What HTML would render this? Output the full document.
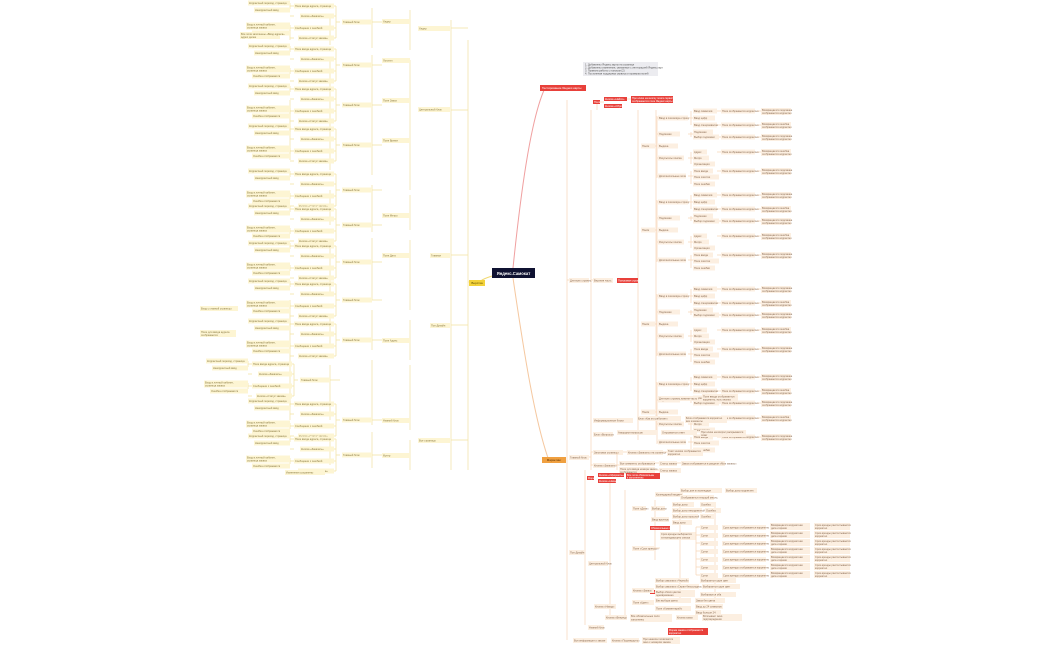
<!DOCTYPE html>
<html><head><meta charset="utf-8"><style>
html,body{margin:0;padding:0;background:#fff;width:1050px;height:650px;overflow:hidden}
svg{display:block}
text{font-family:"Liberation Sans",sans-serif;font-size:2.6px}
.y rect{fill:#fdf5d3}.y text{fill:#8a7a40}
.o rect{fill:#fcefe1}.o text{fill:#8a6a50}
.r rect{fill:#e8403a}.r text{fill:#fff}
.ly{stroke:#f3e2a0;stroke-width:0.7;fill:none}
.lo{stroke:#f8d6b8;stroke-width:0.7;fill:none}
</style></head><body>
<svg width="1050" height="650" viewBox="0 0 1050 650" xmlns="http://www.w3.org/2000/svg">
<defs>
<g id="lb" class="y">
<path class="ly" d="M-32 0H-36 M-36 -16V16 M-36 -16H-38 M-36 -6H-38 M-36 6H-38 M-36 16H-38 M-78 -16H-82 M-78 -6H-82 M-78 6H-82 M-78 16H-82 M-82 -19V-13 M-82 3V9 M0 0H10"/>
<rect x="-30" y="-2.5" width="30" height="5"/><text x="-29" y="1">Главный блок</text>
<rect x="-78" y="-18.5" width="40" height="5"/><text x="-77" y="-15">Поле ввода адреса, страница</text>
<rect x="-72" y="-8.5" width="34" height="5"/><text x="-71" y="-5">Кнопка «Заказать»</text>
<rect x="-78" y="3.5" width="40" height="5"/><text x="-77" y="7">Сообщение с ошибкой</text>
<rect x="-74" y="13.5" width="36" height="5"/><text x="-73" y="17">Кнопка «Статус заказа»</text>
<rect x="-124" y="-21.5" width="42" height="5"/><text x="-123" y="-18">Корректный переход, страница</text>
<rect x="-118" y="-14.5" width="36" height="5"/><text x="-117" y="-11">Некорректный ввод</text>
<rect x="-126" y="0.5" width="44" height="7"/><text x="-125" y="3.5">Вход в личный кабинет,</text><text x="-125" y="6.5">страница заказа</text>
<rect x="-120" y="8.5" width="38" height="5"/><text x="-119" y="12">Ошибка отображается</text>
</g>
</defs>
<!-- main connectors -->
<path d="M513 268 C520 200,530 120,545 88" stroke="#f0a0a0" stroke-width="1" fill="none"/>
<path d="M513 278 C525 360,535 420,548 458" stroke="#f5c8a0" stroke-width="1" fill="none"/>
<path d="M492 276 C480 280,478 282,484 282" stroke="#f0d870" stroke-width="1" fill="none"/>

<!-- LEFT TREE lines -->
<path class="ly" d="M468 40V470 M451 20V470 M451 28H468 M451 110H468 M451 255H468 M451 325H468 M451 440H468 M468 282H470"/>
<path class="ly" d="M410 10V50 M410 60V190 M410 195V230 M410 240V310 M410 320V360 M410 365V430 M410 440V470"/>
<path class="ly" d="M372 8V48 M372 55V175 M372 185V232 M372 238V300 M372 310V350 M372 360V425 M372 432V468"/>
<path class="ly" d="M330 15V45 M330 60V170 M330 190V225 M330 245V295 M330 315V345 M330 365V420 M330 435V465"/>
<path class="ly" d="M290 300V420 M290 30V40 M290 100V160"/>

<!-- right side lines -->
<path class="lo" d="M567 100V640 M591 110V470 M638 110V440 M656 110V430 M567 280H575 M591 280H597"/>
<path class="lo" d="M585 470V625 M610 480V620 M625 490V615 M655 500V560 M680 505V600 M715 505V600"/>

<!-- ROOT -->
<rect x="492" y="268" width="43" height="10" fill="#0f1231"/>
<text x="513.5" y="275" text-anchor="middle" fill="#fff" style="font-size:4.2px;font-weight:bold">Яндекс.Самокат</text>

<g><rect x="469" y="280" width="16" height="6" fill="#f3d23a"/><text x="477" y="284.2" text-anchor="middle" fill="#5a4a00" style="font-size:3px">Верстка</text></g>
<g class="r"><rect x="540" y="85" width="46" height="6"/><text x="542" y="89.2" style="font-size:3px">Тестирование Яндекс.карты</text></g>
<g><rect x="542" y="457" width="24" height="6" fill="#f0a040"/><text x="554" y="461.2" text-anchor="middle" fill="#5a3000" style="font-size:3px">Маркетинг</text></g>

<rect x="583" y="62" width="75" height="14" fill="#ececf0"/>
<text x="585" y="65.5" fill="#555">1. Добавлены Яндекс.карты на странице</text>
<text x="585" y="68.5" fill="#555">2. Добавлены изменения, связанные с интеграцией Яндекс.карт</text>
<text x="585" y="71.5" fill="#555">3. Правила работы с поиском (2)</text>
<text x="585" y="74.5" fill="#555">4. Постоянная поддержка сервиса и проверка полей</text>

<g class="r"><rect x="593" y="100" width="7" height="4"/><rect x="604" y="97" width="23" height="4"/><rect x="604" y="104" width="18" height="4"/><rect x="631" y="96" width="42" height="7"/>
<text x="594" y="103">Поля</text><text x="605" y="100">Кнопка «Найти»</text><text x="605" y="107">Кнопка «Сброс»</text><text x="632" y="99">При клике на кнопку поиск сервиса</text><text x="632" y="102">отображается поле Яндекс.карты</text></g>
<path class="lo" d="M597 104V110 M600 102H604 M627 99H631"/>

<g class="o"><rect x="569" y="278" width="20" height="5"/><text x="570" y="281.5">Для всех страниц</text>
<rect x="593" y="278" width="20" height="5"/><text x="594" y="281.5">Верхняя часть</text></g>
<g class="r"><rect x="617" y="278" width="21" height="5"/><text x="618" y="281.5">Поисковая строка</text></g>

<g id="rb1" transform="translate(641,146)">
<path class="lo" d="M14 0H16 M16 -30V32 M16 -28H17 M16 -12H17 M16 12H17 M16 30H17 M47 -28H52 M47 -12H52 M47 12H52 M47 30H52 M50 -35V-21 M50 -14V-9 M50 6V18 M50 25V38 M76 -35H80 M76 -21H80 M76 -9H80 M76 6H80 M76 25H80 M116 -35H120 M116 -21H120 M116 -9H120 M116 6H120 M116 25H120"/>
<g class="o"><rect x="0" y="-2.5" width="14" height="5"/><text x="1" y="1">Поиск</text>
<rect x="17" y="-30.5" width="30" height="5"/><text x="18" y="-27">Ввод в поисковую строку</text>
<rect x="17" y="-14.5" width="22" height="5"/><text x="18" y="-11">Подсказки</text>
<rect x="17" y="-2.5" width="20" height="5"/><text x="18" y="1">Выдача</text>
<rect x="17" y="9.5" width="26" height="5"/><text x="18" y="13">Результаты поиска</text>
<rect x="17" y="27.5" width="28" height="5"/><text x="18" y="31">Дополнительные поля</text>
<rect x="52" y="-37.5" width="24" height="5"/><text x="53" y="-34">Ввод символов</text>
<rect x="52" y="-30.5" width="22" height="5"/><text x="53" y="-27">Ввод цифр</text>
<rect x="52" y="-23.5" width="24" height="5"/><text x="53" y="-20">Ввод спецсимволов</text>
<rect x="52" y="-16.5" width="20" height="5"/><text x="53" y="-13">Подсказки</text>
<rect x="52" y="-11.5" width="26" height="5"/><text x="53" y="-8">Выбор подсказки</text>
<rect x="52" y="3.5" width="14" height="5"/><text x="53" y="7">Адрес</text>
<rect x="52" y="9.5" width="16" height="5"/><text x="53" y="13">Метро</text>
<rect x="52" y="15.5" width="22" height="5"/><text x="53" y="19">Организация</text>
<rect x="52" y="22.5" width="20" height="5"/><text x="53" y="26">Поле ввода</text>
<rect x="52" y="28.5" width="26" height="5"/><text x="53" y="32">Поле очистки</text>
<rect x="52" y="35.5" width="22" height="5"/><text x="53" y="39">Поле ошибки</text>
<rect x="80" y="-37.5" width="34" height="5"/><text x="81" y="-34">Поле отображается корректно</text>
<rect x="80" y="-23.5" width="34" height="5"/><text x="81" y="-20">Поле отображается корректно</text>
<rect x="80" y="-11.5" width="34" height="5"/><text x="81" y="-8">Поле отображается корректно</text>
<rect x="80" y="3.5" width="34" height="5"/><text x="81" y="7">Поле отображается корректно</text>
<rect x="80" y="22.5" width="34" height="5"/><text x="81" y="26">Поле отображается корректно</text>
<rect x="120" y="-38" width="30" height="7"/><text x="121" y="-35">Возвращается подсказка</text><text x="121" y="-32">отображается корректно</text>
<rect x="120" y="-24" width="30" height="7"/><text x="121" y="-21">Возвращается ошибка</text><text x="121" y="-18">отображается корректно</text>
<rect x="120" y="-12" width="30" height="7"/><text x="121" y="-9">Возвращается подсказка</text><text x="121" y="-6">отображается корректно</text>
<rect x="120" y="3" width="30" height="7"/><text x="121" y="6">Возвращается ошибка</text><text x="121" y="9">отображается корректно</text>
<rect x="120" y="22" width="30" height="7"/><text x="121" y="25">Возвращается подсказка</text><text x="121" y="28">отображается корректно</text>
</g></g>
<g transform="translate(0,84)"><use href="#rb1"/></g>
<g transform="translate(0,178)"><use href="#rb1"/></g>
<g transform="translate(0,266)"><use href="#rb1"/></g>

<g class="o"><rect x="658" y="396" width="40" height="5"/><text x="659" y="399.5">Для всех страниц нижняя часть</text>
<rect x="702" y="394" width="36" height="8"/><text x="703" y="397.5">Поле ввода отображается</text><text x="703" y="400.5">корректно, есть кнопка</text></g>

<g class="o">
<rect x="569" y="455" width="20" height="5"/><text x="570" y="458.5">Главный блок</text>
<rect x="593" y="450" width="30" height="5"/><text x="594" y="453.5">Заголовок страницы</text>
<rect x="627" y="450" width="36" height="5"/><text x="628" y="453.5">Кнопка «Заказать» на странице</text>
<rect x="667" y="449" width="36" height="7"/><text x="668" y="452">Текст кнопки отображается</text><text x="668" y="455">корректно</text>
<rect x="593" y="463" width="22" height="5"/><text x="594" y="466.5">Кнопка «Заказать»</text>
<rect x="619" y="461" width="36" height="5"/><text x="620" y="464.5">Все элементы отображаются</text>
<rect x="659" y="461" width="18" height="5"/><text x="660" y="464.5">Статус заказа</text>
<rect x="681" y="461" width="44" height="5"/><text x="682" y="464.5">Заказ отображается в разделе «Мои заказы»</text>
<rect x="619" y="467" width="36" height="7"/><text x="620" y="470">Поле для ввода номера заказа</text><text x="620" y="473">отображается</text>
<rect x="659" y="468" width="22" height="5"/><text x="660" y="471.5">Статус заказа</text>
</g>
<path class="lo" d="M589 457H591 M591 452V466 M591 452H593 M591 465H593 M617 452V470 M615 465H619 M623 452H627 M663 452H667 M655 463H659 M677 463H681 M655 470H659"/>

<g class="r"><rect x="587" y="476" width="7" height="4"/><text x="588" y="479">Форма</text>
<rect x="598" y="473" width="26" height="4"/><text x="599" y="476">Кнопка «Оформить»</text>
<rect x="598" y="479" width="18" height="4"/><text x="599" y="482">Кнопка «Назад»</text>
<rect x="626" y="473" width="34" height="6"/><text x="627" y="476">Все поля обязательны</text><text x="627" y="478.5">к заполнению</text>
<rect x="650" y="526" width="20" height="4"/><text x="651" y="529">Обязательные поля</text>
<rect x="650" y="590" width="20" height="4"/><text x="651" y="593">Необязательные поля</text>
<rect x="668" y="628" width="40" height="7"/><text x="669" y="631">Форма заказа отображается</text><text x="669" y="634">корректно</text></g>

<g class="o">
<rect x="569" y="550" width="16" height="5"/><text x="570" y="553.5">Поп-Дизайн</text>
<rect x="588" y="561" width="20" height="5"/><text x="589" y="564.5">Центральный блок</text>
<rect x="588" y="625" width="16" height="5"/><text x="589" y="628.5">Нижний блок</text>
<rect x="573" y="638" width="34" height="5"/><text x="574" y="641.5">Вся информация о заказе</text>
<rect x="611" y="638" width="28" height="5"/><text x="612" y="641.5">Кнопка «Подтвердить»</text>
<rect x="642" y="637" width="38" height="7"/><text x="643" y="640">При нажатии появляется</text><text x="643" y="643">окно с номером заказа</text>
<rect x="632" y="506" width="14" height="5"/><text x="633" y="509.5">Поле «Дата»</text>
<rect x="632" y="546" width="22" height="5"/><text x="633" y="549.5">Поле «Срок аренды»</text>
<rect x="655" y="492" width="28" height="5"/><text x="656" y="495.5">Календарный виджет</text>
<rect x="651" y="506" width="14" height="5"/><text x="652" y="509.5">Выбор даты</text>
<rect x="651" y="517" width="18" height="5"/><text x="652" y="520.5">Ввод вручную</text>
<rect x="632" y="588" width="22" height="5"/><text x="633" y="591.5">Кнопка «Заказ»</text>
<rect x="632" y="600" width="22" height="5"/><text x="633" y="603.5">Поле «Цвет»</text>
<rect x="594" y="604" width="22" height="5"/><text x="595" y="607.5">Кнопка «Назад»</text>
<rect x="605" y="615" width="22" height="5"/><text x="606" y="618.5">Кнопка «Вперед»</text>
</g>
<g class="o">
<rect x="680" y="488" width="42" height="5"/><text x="681" y="491.5">Выбор дня из календаря</text>
<rect x="680" y="495" width="34" height="5"/><text x="681" y="498.5">Отображается текущий месяц</text>
<rect x="725" y="488" width="32" height="5"/><text x="726" y="491.5">Выбор даты корректен</text>
<rect x="672" y="502" width="22" height="5"/><text x="673" y="505.5">Выбор даты</text>
<rect x="672" y="508" width="30" height="5"/><text x="673" y="511.5">Выбор даты некорректной</text>
<rect x="672" y="514" width="26" height="5"/><text x="673" y="517.5">Выбор даты прошлой</text>
<rect x="700" y="502" width="16" height="5"/><text x="701" y="505.5">Ошибка</text>
<rect x="705" y="508" width="16" height="5"/><text x="706" y="511.5">Ошибка</text>
<rect x="700" y="514" width="14" height="5"/><text x="701" y="517.5">Ошибка</text>
<rect x="672" y="520" width="20" height="5"/><text x="673" y="523.5">Ввод даты</text>
<rect x="660" y="532" width="36" height="8"/><text x="661" y="535">Срок аренды выбирается</text><text x="661" y="538.5">из выпадающего списка</text>
</g>
<g id="mrow" class="o">
<rect x="700" y="525" width="18" height="5"/><text x="701" y="528.5">Сутки</text>
<rect x="722" y="525" width="44" height="5"/><text x="723" y="528.5">Срок аренды отображается корректно</text>
<rect x="770" y="523" width="40" height="7"/><text x="771" y="526">Возвращается корректная</text><text x="771" y="529">дата и время</text>
<rect x="814" y="523" width="36" height="7"/><text x="815" y="526">Срок аренды рассчитывается</text><text x="815" y="529">корректно</text>
</g>
<g transform="translate(0,8)"><use href="#mrow"/></g>
<g transform="translate(0,16)"><use href="#mrow"/></g>
<g transform="translate(0,24)"><use href="#mrow"/></g>
<g transform="translate(0,32)"><use href="#mrow"/></g>
<g transform="translate(0,40)"><use href="#mrow"/></g>
<g transform="translate(0,48)"><use href="#mrow"/></g>
<path class="lo" d="M696 527V575 M696 527H700 M696 535H700 M696 543H700 M696 551H700 M696 559H700 M696 567H700 M696 575H700 M654 548H660"/>
<g class="o">
<rect x="655" y="578" width="34" height="5"/><text x="656" y="581.5">Выбор самоката «Черный»</text>
<rect x="655" y="584" width="44" height="5"/><text x="656" y="587.5">Выбор самоката «Серая безысходность»</text>
<rect x="655" y="590" width="40" height="7"/><text x="656" y="593">Выбор обоих цветов</text><text x="656" y="596">одновременно</text>
<rect x="655" y="598" width="36" height="5"/><text x="656" y="601.5">Без выбора цвета</text>
<rect x="700" y="578" width="36" height="5"/><text x="701" y="581.5">Выбирается один цвет</text>
<rect x="702" y="584" width="38" height="5"/><text x="703" y="587.5">Выбирается один цвет</text>
<rect x="700" y="592" width="36" height="5"/><text x="701" y="595.5">Выбираются оба</text>
<rect x="695" y="598" width="30" height="5"/><text x="696" y="601.5">Заказ без цвета</text>
<rect x="655" y="606" width="36" height="5"/><text x="656" y="609.5">Поле «Комментарий»</text>
<rect x="695" y="604" width="28" height="5"/><text x="696" y="607.5">Ввод до 24 символов</text>
<rect x="695" y="610" width="26" height="5"/><text x="696" y="613.5">Ввод больше 24</text>
<rect x="630" y="614" width="42" height="8"/><text x="631" y="617">Все обязательные поля</text><text x="631" y="620.5">заполнены</text>
<rect x="676" y="615" width="22" height="5"/><text x="677" y="618.5">Кнопка заказ</text>
<rect x="702" y="614" width="40" height="7"/><text x="703" y="617">Всплывает окно</text><text x="703" y="620">подтверждения</text>
</g>

<g class="o">
<rect x="593" y="418" width="40" height="5"/><text x="594" y="421.5">Информационные блоки</text>
<rect x="637" y="416" width="44" height="5"/><text x="638" y="419.5">Блок «Как это работает»</text>
<rect x="685" y="416" width="42" height="7"/><text x="686" y="419">Блок отображается корректно</text><text x="686" y="422">все элементы</text>
<rect x="593" y="432" width="20" height="5"/><text x="594" y="435.5">Блок «Вопросы»</text>
<rect x="617" y="430" width="40" height="5"/><text x="618" y="433.5">Аккордеон вопросов</text>
<rect x="661" y="430" width="36" height="5"/><text x="662" y="433.5">Открывается ответ</text>
<rect x="700" y="430" width="46" height="7"/><text x="701" y="433">При клике на вопрос раскрывается</text><text x="701" y="436">ответ</text>
</g>

<!-- LEFT TREE blocks -->
<g transform="translate(372,22)"><use href="#lb"/></g>
<g transform="translate(372,65)"><use href="#lb"/></g>
<g transform="translate(372,105)"><use href="#lb"/></g>
<g transform="translate(372,145)"><use href="#lb"/></g>
<g transform="translate(372,190)"><use href="#lb"/></g>
<g transform="translate(372,225)"><use href="#lb"/></g>
<g transform="translate(372,262)"><use href="#lb"/></g>
<g transform="translate(372,300)"><use href="#lb"/></g>
<g transform="translate(372,340)"><use href="#lb"/></g>
<g transform="translate(330,380)"><use href="#lb"/></g>
<g transform="translate(372,420)"><use href="#lb"/></g>
<g transform="translate(372,455)"><use href="#lb"/></g>
<g class="y" transform="translate(410,0)">
<rect x="-28" y="19" width="28" height="5"/><text x="-27" y="22.5">Хедер</text>
<rect x="-28" y="58" width="28" height="5"/><text x="-27" y="61.5">Логотип</text>
<rect x="-28" y="98" width="28" height="5"/><text x="-27" y="101.5">Поле Заказ</text>
<rect x="-28" y="138" width="28" height="5"/><text x="-27" y="141.5">Поле Время</text>
<rect x="-28" y="213" width="28" height="5"/><text x="-27" y="216.5">Поле Метро</text>
<rect x="-28" y="253" width="28" height="5"/><text x="-27" y="256.5">Поле Дата</text>
<rect x="-28" y="338" width="28" height="5"/><text x="-27" y="341.5">Поле Адрес</text>
<rect x="-28" y="418" width="28" height="5"/><text x="-27" y="421.5">Нижний блок</text>
<rect x="-28" y="453" width="28" height="5"/><text x="-27" y="456.5">Футер</text>
</g>
<g class="y">
<rect x="418" y="26" width="32" height="5"/><text x="419" y="29.5">Хедер</text>
<rect x="418" y="107" width="32" height="5"/><text x="419" y="110.5">Центральный блок</text>
<rect x="430" y="253" width="20" height="5"/><text x="431" y="256.5">Главная</text>
<rect x="430" y="323" width="20" height="5"/><text x="431" y="326.5">Поп-Дизайн</text>
<rect x="418" y="438" width="32" height="5"/><text x="419" y="441.5">Все страницы</text>
</g>
<g class="y">
<rect x="240" y="32" width="40" height="7"/><text x="241" y="35">Все поля заполнены «Ввод адреса»</text><text x="241" y="38">адрес далее</text>
<rect x="200" y="306" width="38" height="5"/><text x="201" y="309.5">Вход с главной страницы</text>
<rect x="200" y="330" width="36" height="7"/><text x="201" y="333">Поле для ввода адреса</text><text x="201" y="336">отображается</text>
<rect x="285" y="470" width="40" height="5"/><text x="286" y="473.5">Изменения сохранены</text>
</g>
</svg>
</body></html>
